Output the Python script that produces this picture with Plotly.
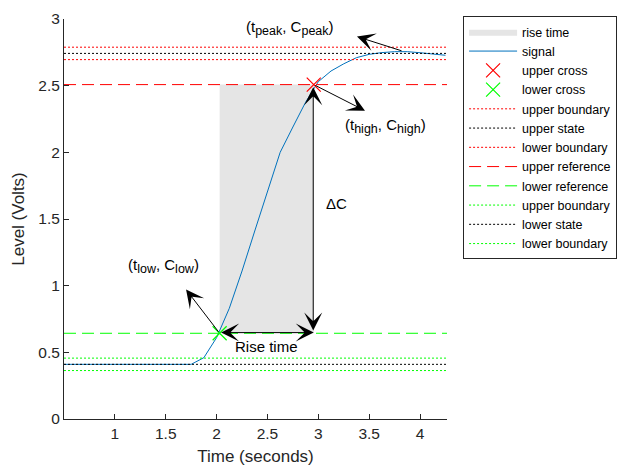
import plotly.graph_objects as go

# ---- data ----
time = [0.5, 0.75, 1.0, 1.25, 1.5, 1.75, 1.875, 2.0, 2.125, 2.25, 2.375, 2.5, 2.625,
        2.75, 2.875, 3.0, 3.125, 3.25, 3.375, 3.5, 3.625, 3.75, 3.875, 4.0, 4.125, 4.25]
signal = [0.41, 0.41, 0.41, 0.41, 0.41, 0.41, 0.46, 0.61, 0.83, 1.11, 1.41, 1.70, 2.00,
          2.19, 2.376, 2.53, 2.61, 2.664, 2.71, 2.735, 2.748, 2.755, 2.755, 2.747, 2.738, 2.728]

x_limits = [0.5, 4.265]
upper_state = 2.742
lower_state = 0.41
tolerance = 0.0466
upper_reference = 2.508
lower_reference = 0.643
t_low = 2.03
t_high = 2.955
t_peak = 3.833
c_peak = 2.758

AX = "#262626"
FONT = "Liberation Sans, Arial, Helvetica, sans-serif"
RED = "rgb(255,0,0)"
GREEN = "rgb(0,255,0)"
BLUE = "#0072BD"
DOT = "2px,2px"
DASH = "12px,6px"

fig = go.Figure()

fig.add_trace(go.Scatter(
    x=[t_low, t_high, t_high, t_low, t_low],
    y=[lower_reference, lower_reference, upper_reference, upper_reference, lower_reference],
    fill="toself", fillcolor="#e5e5e5", line=dict(width=0, color="#e5e5e5"),
    mode="lines", name="rise time"))

fig.add_trace(go.Scatter(x=time, y=signal, mode="lines", name="signal",
                         line=dict(color=BLUE, width=1)))


def hline(level, color, dash, name):
    fig.add_trace(go.Scatter(x=x_limits, y=[level, level], mode="lines", name=name,
                             line=dict(color=color, width=1, dash=dash)))


hline(upper_state + tolerance, RED, DOT, "upper boundary")
hline(upper_state, "black", DOT, "upper state")
hline(upper_state - tolerance, RED, DOT, "lower boundary")
hline(upper_reference, RED, DASH, "upper reference")
hline(lower_reference, GREEN, DASH, "lower reference")
hline(lower_state + tolerance, GREEN, DOT, "upper boundary")
hline(lower_state, "black", DOT, "lower state")
hline(lower_state - tolerance, GREEN, DOT, "lower boundary")

fig.add_trace(go.Scatter(x=[t_high], y=[upper_reference], mode="markers", name="upper cross",
                         marker=dict(symbol="x-thin", size=14, line=dict(color=RED, width=1.2))))
fig.add_trace(go.Scatter(x=[t_low], y=[lower_reference], mode="markers", name="lower cross",
                         marker=dict(symbol="x-thin", size=14, line=dict(color=GREEN, width=1.2))))

# legend ordering
order = ["rise time", "signal", "upper cross", "lower cross"]
for i, tr in enumerate(fig.data):
    if tr.name in order:
        tr.legendrank = order.index(tr.name) + 1
    else:
        tr.legendrank = 10 + i

annotations = []


def arrow(x0, y0, x1, y1, both=False):
    annotations.append(dict(
        x=x1, y=y1, ax=x0, ay=y0, xref="x", yref="y", axref="x", ayref="y",
        text="", showarrow=True, arrowhead=3, arrowsize=3, arrowwidth=1,
        arrowcolor="black", arrowside="end+start" if both else "end",
        startarrowhead=3, startarrowsize=3))


def label(x, y, text, size=15):
    annotations.append(dict(x=x, y=y, xref="x", yref="y", text=text, showarrow=False,
                            font=dict(family=FONT, size=size, color="black")))


def sub(s):
    return "<sub><span style='font-size:12.5px'>" + s + "</span></sub>"


arrow(t_peak, c_peak, 3.38, 2.868)
arrow(t_high, upper_reference, 3.459, 2.312)
arrow(t_low, lower_reference, 1.70, 0.971)
arrow(t_low, lower_reference + 0.005, t_high, lower_reference + 0.005, both=True)
arrow(t_high - 0.005, lower_reference + 0.01, t_high - 0.005, upper_reference - 0.02, both=True)

label(2.717, 2.935, "(t" + sub("peak") + ", C" + sub("peak") + ")")
label(3.66, 2.20, "(t" + sub("high") + ", C" + sub("high") + ")")
label(1.48, 1.145, "(t" + sub("low") + ", C" + sub("low") + ")")
label(2.495, 0.545, "Rise time")
label(3.174, 1.62, "ΔC")

fig.update_layout(
    width=634, height=472,
    margin=dict(l=64, r=187, t=10, b=52),
    paper_bgcolor="white", plot_bgcolor="white",
    font=dict(family=FONT, size=15, color=AX),
    showlegend=True,
    legend=dict(x=1.042, y=1.007, xanchor="left", yanchor="top",
                bordercolor=AX, borderwidth=1, bgcolor="white",
                font=dict(family=FONT, size=12.5, color="black"),
                itemwidth=48, tracegroupgap=0, maxheight=460),
    annotations=annotations,
    xaxis=dict(range=x_limits, showgrid=False, zeroline=False, showline=True,
               linecolor=AX, linewidth=1, ticks="inside", ticklen=5, tickcolor=AX,
               tickvals=[1, 1.5, 2, 2.5, 3, 3.5, 4],
               title=dict(text="Time (seconds)", font=dict(size=17, color=AX), standoff=9),
               tickfont=dict(size=15.5, color=AX)),
    yaxis=dict(range=[0, 3], showgrid=False, zeroline=False, showline=True,
               linecolor=AX, linewidth=1, ticks="inside", ticklen=5, tickcolor=AX,
               tickvals=[0, 0.5, 1, 1.5, 2, 2.5, 3],
               title=dict(text="Level (Volts)", font=dict(size=17, color=AX), standoff=9),
               tickfont=dict(size=15.5, color=AX)),
)

fig.write_html("out.html")
